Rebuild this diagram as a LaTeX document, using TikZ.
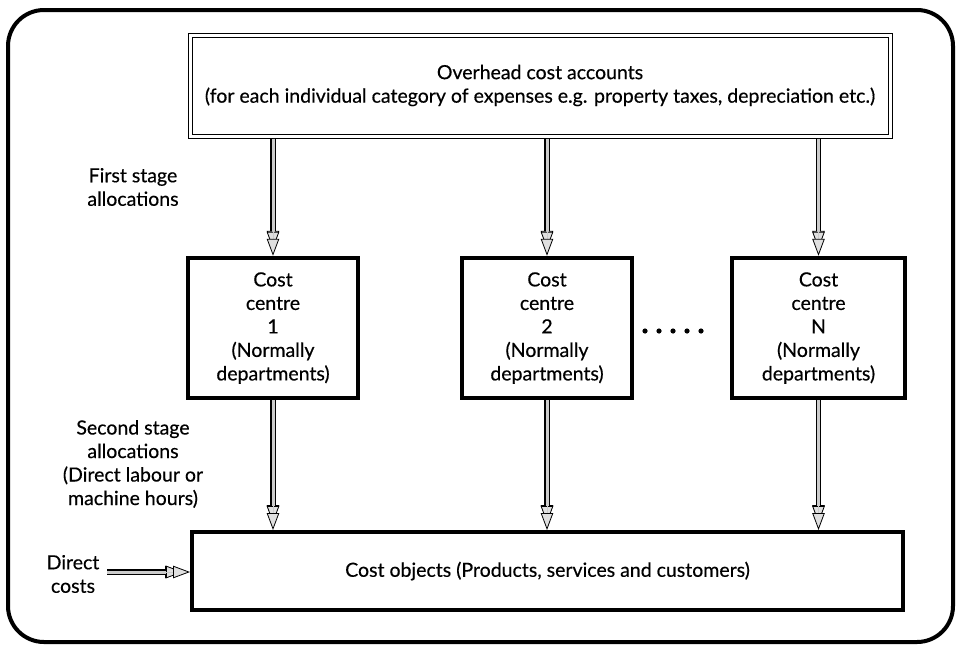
\documentclass[tikz,border=0pt]{standalone}
\usepackage{fontspec}
\setmainfont{Lato}[FakeBold=0.4]
\usetikzlibrary{arrows.meta,calc}
\begin{document}
\begin{tikzpicture}[x=1pt, y=-1pt,
  every node/.style={font=\fontsize{19.5}{23.5}\selectfont, align=center, inner sep=0pt},
  heavybox/.style={draw, line width=4.5pt, minimum height=140pt, minimum width=170pt},
  hollow/.style={
    preaction={draw, black, line width=5.5pt, shorten >=8pt},
    preaction={draw, gray!40, line width=3pt, shorten >=7pt},
    draw=gray!40, line width=0.8pt,
    -{Triangle[open, color=black, fill=gray!25, length=17pt, width=12.5pt, line width=0.8pt]}}]
\useasboundingbox (0,0) rectangle (961,651);

% outer rounded frame
\draw[line width=4pt, rounded corners=36pt] (8,10) rectangle (953,642);

% overhead cost accounts, with a double border
\node[draw, line width=1pt, minimum width=704pt, minimum height=105pt] (ovh) at (540,85.5)
  {Overhead cost accounts\\(for each individual category of expenses e.g. property taxes, depreciation etc.)};
\draw[line width=1pt] ($(ovh.south west)+(4.5,-4.5)$) rectangle ($(ovh.north east)+(-4.5,4.5)$);

% cost centres
\node[heavybox] (c1) at (273,328) {Cost\\centre\\1\\(Normally\\departments)};
\node[heavybox] (c2) at (547,328) {Cost\\centre\\2\\(Normally\\departments)};
\node[heavybox, minimum width=173pt] (c3) at (818.5,328) {Cost\\centre\\N\\(Normally\\departments)};

% cost objects
\node[draw, line width=4pt, minimum width=711pt, minimum height=78pt] (obj) at (547.5,571)
  {Cost objects (Products, services and customers)};

% side labels
\node (first) at (133,187) {First stage\\allocations};
\node (second) at (133,464) {Second stage\\allocations\\(Direct labour or\\machine hours)};
\node (direct) at (73,574) {Direct\\costs};
\coordinate (dstart) at (107,572);

% ellipsis between centres
\foreach \i in {0,...,4}
  \fill (645+\i*14,331) circle (2.6pt);

% first stage allocations
\foreach \c in {c1,c2,c3}
  \draw[hollow] (\c.north |- ovh.south) -- (\c.north);

% second stage allocations
\foreach \c in {c1,c2,c3}
  \draw[hollow] (\c.south) -- (\c.south |- obj.north);

% direct costs
\draw[hollow] (dstart) -- (dstart -| obj.west);
\end{tikzpicture}
\end{document}
